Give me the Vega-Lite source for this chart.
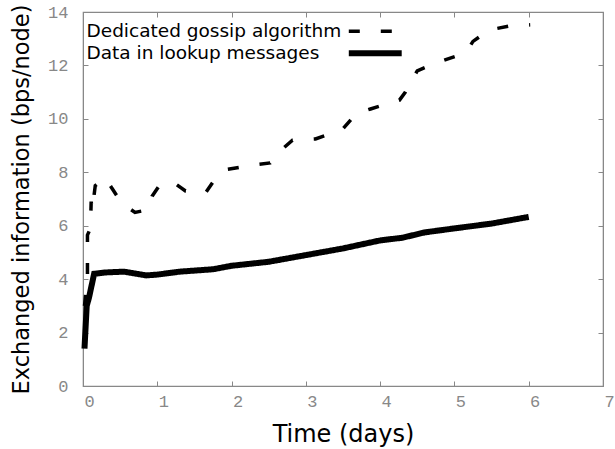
{
  "$schema": "https://vega.github.io/schema/vega-lite/v6.json",
  "width": 520,
  "height": 374,
  "autosize": {"type": "none"},
  "padding": {"left": 83, "top": 12, "right": 12, "bottom": 63},
  "background": "white",
  "config": {
    "view": {"stroke": "#888888", "strokeWidth": 1.2},
    "axis": {
      "grid": false,
      "domainColor": "#888888",
      "tickColor": "#888888",
      "labelColor": "#888888",
      "labelFont": "Liberation Mono",
      "labelFontSize": 17,
      "titleFont": "DejaVu Sans",
      "titleFontSize": 24,
      "titleFontWeight": "normal",
      "titleColor": "black"
    },
    "legend": {
      "labelFont": "DejaVu Sans",
      "labelFontSize": 18.5,
      "labelColor": "black",
      "labelLimit": 500
    }
  },
  "data": {
    "values": [
      {"series": "Dedicated gossip algorithm", "t": 0.02, "v": 3.0},
      {"series": "Dedicated gossip algorithm", "t": 0.06, "v": 4.05},
      {"series": "Dedicated gossip algorithm", "t": 0.06, "v": 5.65},
      {"series": "Dedicated gossip algorithm", "t": 0.1, "v": 5.9},
      {"series": "Dedicated gossip algorithm", "t": 0.125, "v": 6.6},
      {"series": "Dedicated gossip algorithm", "t": 0.11, "v": 6.9},
      {"series": "Dedicated gossip algorithm", "t": 0.165, "v": 7.5},
      {"series": "Dedicated gossip algorithm", "t": 0.3, "v": 7.8},
      {"series": "Dedicated gossip algorithm", "t": 0.39, "v": 7.4},
      {"series": "Dedicated gossip algorithm", "t": 0.52, "v": 6.85},
      {"series": "Dedicated gossip algorithm", "t": 0.7, "v": 6.5},
      {"series": "Dedicated gossip algorithm", "t": 0.88, "v": 6.6},
      {"series": "Dedicated gossip algorithm", "t": 0.93, "v": 7.1},
      {"series": "Dedicated gossip algorithm", "t": 1.04, "v": 7.55},
      {"series": "Dedicated gossip algorithm", "t": 1.23, "v": 7.6},
      {"series": "Dedicated gossip algorithm", "t": 1.38, "v": 7.3},
      {"series": "Dedicated gossip algorithm", "t": 1.65, "v": 7.23},
      {"series": "Dedicated gossip algorithm", "t": 1.79, "v": 7.8},
      {"series": "Dedicated gossip algorithm", "t": 1.92, "v": 8.1},
      {"series": "Dedicated gossip algorithm", "t": 2.31, "v": 8.28},
      {"series": "Dedicated gossip algorithm", "t": 2.52, "v": 8.35},
      {"series": "Dedicated gossip algorithm", "t": 2.67, "v": 8.84},
      {"series": "Dedicated gossip algorithm", "t": 2.82, "v": 9.2},
      {"series": "Dedicated gossip algorithm", "t": 3.13, "v": 9.25},
      {"series": "Dedicated gossip algorithm", "t": 3.49, "v": 9.6},
      {"series": "Dedicated gossip algorithm", "t": 3.68, "v": 10.2},
      {"series": "Dedicated gossip algorithm", "t": 3.87, "v": 10.37},
      {"series": "Dedicated gossip algorithm", "t": 4.26, "v": 10.7},
      {"series": "Dedicated gossip algorithm", "t": 4.34, "v": 11.0},
      {"series": "Dedicated gossip algorithm", "t": 4.5, "v": 11.8},
      {"series": "Dedicated gossip algorithm", "t": 4.76, "v": 12.1},
      {"series": "Dedicated gossip algorithm", "t": 5.08, "v": 12.4},
      {"series": "Dedicated gossip algorithm", "t": 5.17, "v": 12.55},
      {"series": "Dedicated gossip algorithm", "t": 5.25, "v": 12.9},
      {"series": "Dedicated gossip algorithm", "t": 5.47, "v": 13.33},
      {"series": "Dedicated gossip algorithm", "t": 5.75, "v": 13.48},
      {"series": "Dedicated gossip algorithm", "t": 6.02, "v": 13.52},
      {"series": "Data in lookup messages", "t": 0.02, "v": 1.4},
      {"series": "Data in lookup messages", "t": 0.05, "v": 3.0},
      {"series": "Data in lookup messages", "t": 0.08, "v": 3.3},
      {"series": "Data in lookup messages", "t": 0.15, "v": 4.2},
      {"series": "Data in lookup messages", "t": 0.3, "v": 4.25},
      {"series": "Data in lookup messages", "t": 0.55, "v": 4.28},
      {"series": "Data in lookup messages", "t": 0.85, "v": 4.14},
      {"series": "Data in lookup messages", "t": 1.0, "v": 4.17},
      {"series": "Data in lookup messages", "t": 1.3, "v": 4.28},
      {"series": "Data in lookup messages", "t": 1.75, "v": 4.37},
      {"series": "Data in lookup messages", "t": 2.0, "v": 4.5},
      {"series": "Data in lookup messages", "t": 2.5, "v": 4.65},
      {"series": "Data in lookup messages", "t": 3.0, "v": 4.9},
      {"series": "Data in lookup messages", "t": 3.5, "v": 5.15},
      {"series": "Data in lookup messages", "t": 4.0, "v": 5.45},
      {"series": "Data in lookup messages", "t": 4.3, "v": 5.55},
      {"series": "Data in lookup messages", "t": 4.6, "v": 5.75},
      {"series": "Data in lookup messages", "t": 5.0, "v": 5.9},
      {"series": "Data in lookup messages", "t": 5.5, "v": 6.08},
      {"series": "Data in lookup messages", "t": 6.0, "v": 6.33}
    ]
  },
  "layer": [
    {
      "mark": {"type": "line", "color": "black", "strokeCap": "butt"},
      "encoding": {
        "x": {
          "field": "t", "type": "quantitative",
          "scale": {"domain": [0, 7], "nice": false},
          "axis": {"orient": "bottom", "title": "Time (days)", "values": [0,1,2,3,4,5,6,7], "format": "d",
                   "tickSize": -5, "labelPadding": 12, "labelOffset": 6, "titlePadding": 13, "labelFlush": false}
        },
        "y": {
          "field": "v", "type": "quantitative",
          "scale": {"domain": [0, 14], "nice": false},
          "axis": {"orient": "left", "title": "Exchanged information (bps/node)", "values": [0,2,4,6,8,10,12,14],
                   "tickSize": -5, "labelPadding": 20, "titlePadding": 14, "titleFontSize": 22.5, "labelFlush": false}
        },
        "strokeDash": {
          "field": "series", "type": "nominal",
          "scale": {"domain": ["Dedicated gossip algorithm", "Data in lookup messages"], "range": [[11, 21], [1, 0]]},
          "legend": {"title": null, "orient": "none", "legendX": -5, "legendY": 10, "symbolType": "M-5,0H5",
                     "symbolSize": 112, "symbolOffset": 288, "labelOffset": -298, "rowPadding": 0, "padding": 0}
        },
        "strokeWidth": {
          "field": "series", "type": "nominal",
          "scale": {"domain": ["Dedicated gossip algorithm", "Data in lookup messages"], "range": [3.5, 6]},
          "legend": {"title": null, "orient": "none", "legendX": -5, "legendY": 10, "symbolType": "M-5,0H5",
                     "symbolSize": 112, "symbolOffset": 288, "labelOffset": -298, "rowPadding": 0, "padding": 0}
        }
      }
    },
    {
      "mark": {"type": "line", "strokeOpacity": 0},
      "encoding": {
        "x": {"field": "t", "type": "quantitative",
              "axis": {"orient": "top", "title": null, "labels": false, "values": [0,1,2,3,4,5,6,7], "tickSize": -5}},
        "y": {"field": "v", "type": "quantitative",
              "axis": {"orient": "right", "title": null, "labels": false, "values": [0,2,4,6,8,10,12,14], "tickSize": -5}},
        "detail": {"field": "series"}
      }
    }
  ],
  "resolve": {"axis": {"x": "independent", "y": "independent"}}
}
